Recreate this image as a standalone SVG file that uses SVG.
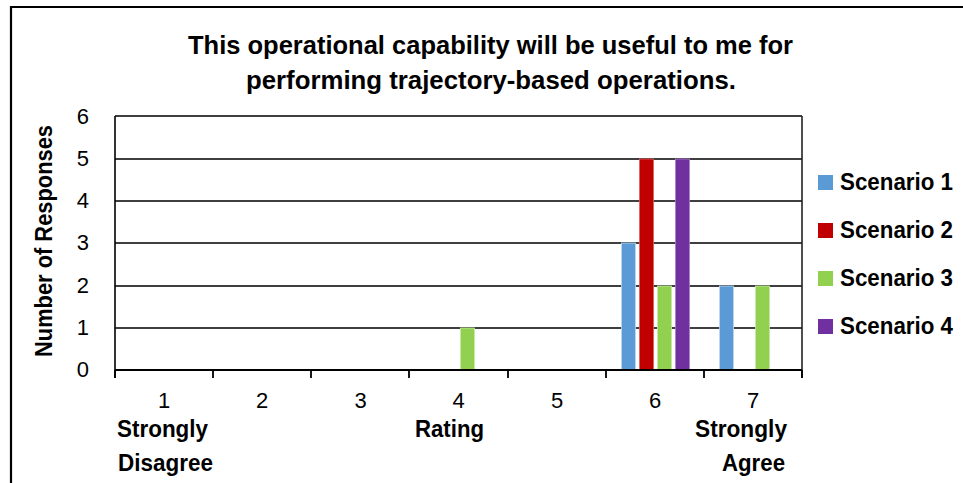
<svg xmlns="http://www.w3.org/2000/svg" width="963" height="483" viewBox="0 0 963 483">
<style>
text{font-family:"Liberation Sans",Arial,sans-serif;fill:#000}
.b{font-weight:bold;font-size:23px}
.t{font-size:26px;font-weight:bold;text-anchor:middle}
.n{font-size:22px;text-anchor:end}
.xl{font-size:22px;text-anchor:middle}
.lg{font-size:23px;font-weight:bold}
.grid{stroke:#000;stroke-width:1.6;fill:none}
.s1{fill:#5B9BD5;stroke:#BDD7EE;stroke-width:0.8}
.s2{fill:#C00000;stroke:#E06060;stroke-width:0.8}
.s3{fill:#92D050;stroke:#C6E8A8;stroke-width:0.8}
.s4{fill:#7030A0;stroke:#A880C8;stroke-width:0.8}
</style>
<rect width="963" height="483" fill="#fff"/>
<path d="M11 483 V7 H963" fill="none" stroke="#000" stroke-width="2.2"/>
<g id="title">
<text class="t" x="490.5" y="54" textLength="605" lengthAdjust="spacingAndGlyphs">This operational capability will be useful to me for</text>
<text class="t" x="491" y="89" textLength="490" lengthAdjust="spacingAndGlyphs">performing trajectory-based operations.</text>
</g>
<g id="grid">
<path class="grid" d="M115 116 H802 M115 159 H802 M115 201 H802 M115 243 H802 M115 286 H802 M115 328 H802"/>
<path d="M802 116 V378" stroke="#222" stroke-width="1.6" fill="none"/>
<path d="M115 116 V378" stroke="#000" stroke-width="1.6" fill="none"/>
</g>
<g id="y-axis">
<text class="n" x="89" y="124">6</text>
<text class="n" x="89" y="166">5</text>
<text class="n" x="89" y="208">4</text>
<text class="n" x="89" y="250">3</text>
<text class="n" x="89" y="293">2</text>
<text class="n" x="89" y="335">1</text>
<text class="n" x="89" y="377">0</text>
<text class="b" text-anchor="middle" transform="translate(52 241) rotate(-90)" textLength="232" lengthAdjust="spacingAndGlyphs">Number of Responses</text>
</g>
<g id="bars">
<rect class="s3" x="460.5" y="328" width="14" height="42"/>
<rect class="s1" x="621.5" y="243" width="14" height="127"/>
<rect class="s2" x="639.5" y="159" width="14" height="211"/>
<rect class="s3" x="657.5" y="286" width="14" height="84"/>
<rect class="s4" x="675.5" y="159" width="14" height="211"/>
<rect class="s1" x="719.5" y="286" width="14" height="84"/>
<rect class="s3" x="755.5" y="286" width="14" height="84"/>
</g>
<g id="x-axis">
<path d="M115 370 H802 M115 370 V378 M213 370 V378 M311 370 V378 M409 370 V378 M508 370 V378 M606 370 V378 M704 370 V378 M802 370 V378" stroke="#000" stroke-width="1.8" fill="none"/>
<text class="xl" x="164" y="408">1</text>
<text class="xl" x="262" y="408">2</text>
<text class="xl" x="360.5" y="408">3</text>
<text class="xl" x="458.5" y="408">4</text>
<text class="xl" x="557" y="408">5</text>
<text class="xl" x="655" y="408">6</text>
<text class="xl" x="753" y="408">7</text>
<text class="b" x="117" y="437" textLength="91" lengthAdjust="spacingAndGlyphs">Strongly</text>
<text class="b" x="118" y="471" textLength="95" lengthAdjust="spacingAndGlyphs">Disagree</text>
<text class="b" x="415" y="437" textLength="69" lengthAdjust="spacingAndGlyphs">Rating</text>
<text class="b" x="695" y="437" textLength="92" lengthAdjust="spacingAndGlyphs">Strongly</text>
<text class="b" x="722" y="471" textLength="63" lengthAdjust="spacingAndGlyphs">Agree</text>
</g>
<g id="legend">
<rect x="818" y="175" width="15" height="15" fill="#5B9BD5"/>
<text class="lg" x="840" y="190" textLength="113" lengthAdjust="spacingAndGlyphs">Scenario 1</text>
<rect x="818" y="223" width="15" height="15" fill="#C00000"/>
<text class="lg" x="840" y="238" textLength="113" lengthAdjust="spacingAndGlyphs">Scenario 2</text>
<rect x="818" y="271" width="15" height="15" fill="#92D050"/>
<text class="lg" x="840" y="286" textLength="113" lengthAdjust="spacingAndGlyphs">Scenario 3</text>
<rect x="818" y="319" width="15" height="15" fill="#7030A0"/>
<text class="lg" x="840" y="334" textLength="113" lengthAdjust="spacingAndGlyphs">Scenario 4</text>
</g>
</svg>
